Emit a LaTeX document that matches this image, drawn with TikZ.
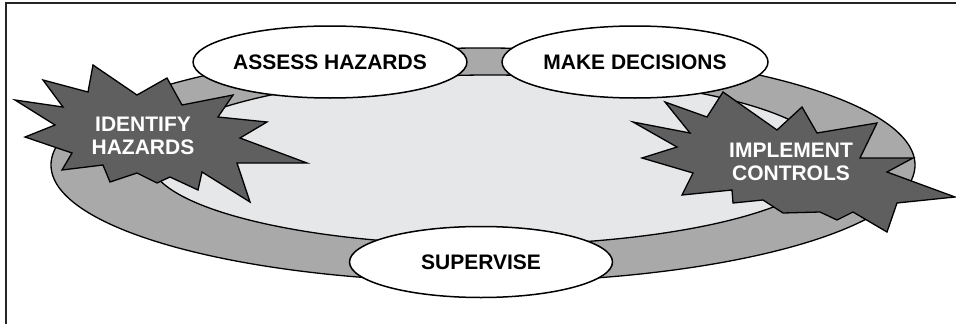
\documentclass[tikz,border=0pt]{standalone}
\usepackage{fontspec}
\setmainfont{Liberation Sans}
\usetikzlibrary{shapes.geometric}

\definecolor{ringgrey}{HTML}{A9A9A9}
\definecolor{innergrey}{HTML}{E6E7E9}
\definecolor{burstgrey}{HTML}{5F5F5F}

\tikzset{
  steptext/.style={font=\fontsize{21}{23}\selectfont\bfseries},
  stepoval/.style={ellipse, draw=black, line width=1.5pt, fill=white,
    inner sep=0pt, steptext},
  burst/.style={draw=black, line width=1.3pt, line join=miter, fill=burstgrey},
  bursttext/.style={text=white, align=center, inner sep=0pt, steptext}
}

\begin{document}
\begin{tikzpicture}[x=1pt,y=1pt]
\useasboundingbox (0,0) rectangle (956,-324);
% frame, only top and left edges show
\draw [black!85, line width=2pt] (6,-330) -- (6,-3) -- (962,-3);
% the ring
\draw [black, line width=1.3pt, fill=ringgrey] (483,-165) ellipse [x radius=432, y radius=117];
\draw [black, line width=1.3pt, fill=innergrey] (490,-160) ellipse [x radius=340, y radius=85];
% left starburst
\draw [burst] (15,-100) -- (63,-107) -- (43,-80) -- (88,-92) -- (93,-65) -- (137,-95)
  -- (167,-78) -- (182,-105) -- (233,-95) -- (218,-117) -- (267,-122) -- (240,-138)
  -- (307,-163) -- (237,-163) -- (250,-202) -- (202,-172) -- (198,-190) -- (170,-177)
  -- (157,-183) -- (137,-173) -- (110,-182) -- (103,-165) -- (62,-170) -- (72,-153)
  -- (25,-137) -- (55,-125) -- cycle;
\node [bursttext] (identify) at (143,-136) {IDENTIFY\\HAZARDS};
% right starburst
\draw [burst] (633,-122) -- (690,-133) -- (665,-102) -- (707,-117) -- (723,-92) -- (777,-130)
  -- (802,-107) -- (817,-133) -- (877,-123) -- (860,-158) -- (913,-158) -- (887,-172)
  -- (955,-197) -- (897,-203) -- (887,-232) -- (853,-212) -- (837,-220) -- (820,-212)
  -- (783,-213) -- (763,-200) -- (733,-203) -- (732,-190) -- (682,-195) -- (693,-173)
  -- (642,-158) -- (677,-147) -- cycle;
\node [bursttext] (implement) at (791,-162) {IMPLEMENT\\CONTROLS};
% steps on the ring
\node [stepoval, minimum width=264pt, minimum height=72pt] (assess) at (330,-62) {ASSESS HAZARDS};
\node [stepoval, minimum width=266pt, minimum height=72pt] (decide) at (635,-62) {MAKE DECISIONS};
\node [stepoval, minimum width=263pt, minimum height=71pt] (supervise) at (481,-262) {SUPERVISE};
\end{tikzpicture}
\end{document}
